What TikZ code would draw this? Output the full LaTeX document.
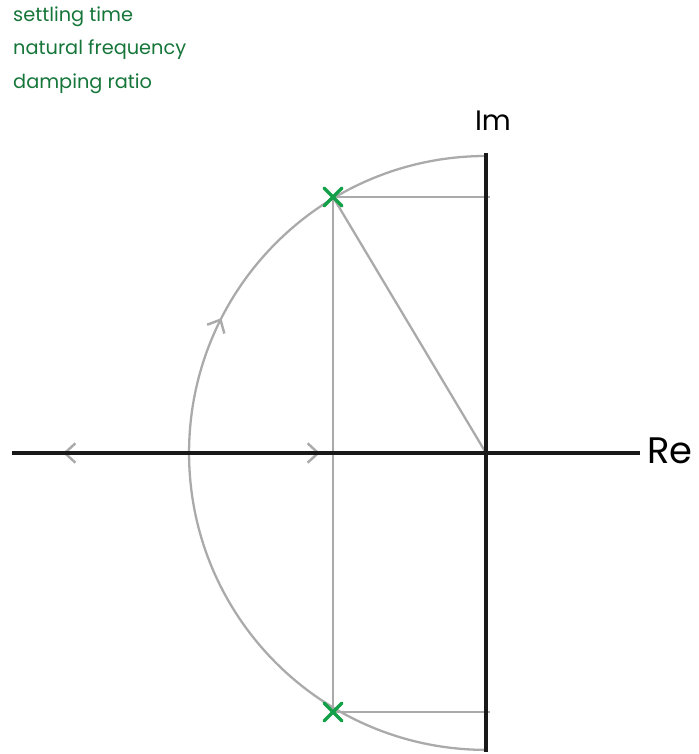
\documentclass[tikz,border=0pt]{standalone}
\usepackage{fontspec}
\setmainfont{Poppins}
\usetikzlibrary{arrows.meta, decorations.markings}
\definecolor{noteGreen}{RGB}{22,118,58}
\definecolor{poleGreen}{RGB}{20,160,72}
\definecolor{guideGray}{RGB}{170,170,170}
\tikzset{
  axis/.style={line width=2.1pt, black!90},
  guide/.style={line width=1.3pt, guideGray},
  pole/.style={line width=2pt, poleGreen, line cap=round},
  barb/.style={-{Straight Barb[length=6pt, width=11pt, line width=1.4pt]}},
  note/.style={anchor=west, text=noteGreen, font=\fontsize{11}{13}\selectfont}
}
\begin{document}
\begin{tikzpicture}[x=0.02cm, y=0.02cm]
\useasboundingbox (-486,-301) rectangle (212,453);

% notes
\node[note] (settle) at (-479,436) {settling time};
\node[note] (natfreq) at (-479,403) {natural frequency};
\node[note] (damp) at (-479,369) {damping ratio};

% points
\coordinate (O) at (0,0);
\coordinate (P1) at (-153,256);
\coordinate (P2) at (-153,-259);
\coordinate (A1) at (4,256);
\coordinate (A2) at (4,-259);

% circle of constant natural frequency
\draw[guide, decoration={markings, mark=at position 0.35 with {\arrowreversed{Straight Barb[length=6pt, width=11pt, line width=1.4pt]}}}, postaction={decorate}]
  (O) ++(0,297) arc[start angle=90, end angle=270, radius=5.94cm];

% guide lines
\draw[guide] (P1) -- (A1);
\draw[guide] (P2) -- (A2);
\draw[guide] (P1) -- (P2);
\draw[guide] (P1) -- (O);

% gray arrows along real axis
\coordinate (L) at (-423,0);
\coordinate (R) at (-166,0);
\draw[guide, barb] (-300,0) -- (L);
\draw[guide, barb] (-300,0) -- (R);

% axes
\coordinate (ReL) at (-474,0);
\coordinate (ReR) at (154,0);
\coordinate (ImT) at (0,300);
\coordinate (ImB) at (0,-299);
\draw[axis] (ReL) -- (ReR);
\draw[axis] (ImB) -- (ImT);
\node[font=\fontsize{16}{18}\selectfont] (im) at (7,332) {Im};
\node[font=\fontsize{21}{24}\selectfont, anchor=west] (re) at (155,2) {Re};

% poles
\foreach \p in {P1,P2}
  \draw[pole] (\p) ++(-9,9) -- ++(18,-18) (\p) ++(-9,-9) -- ++(18,18);
\end{tikzpicture}
\end{document}
